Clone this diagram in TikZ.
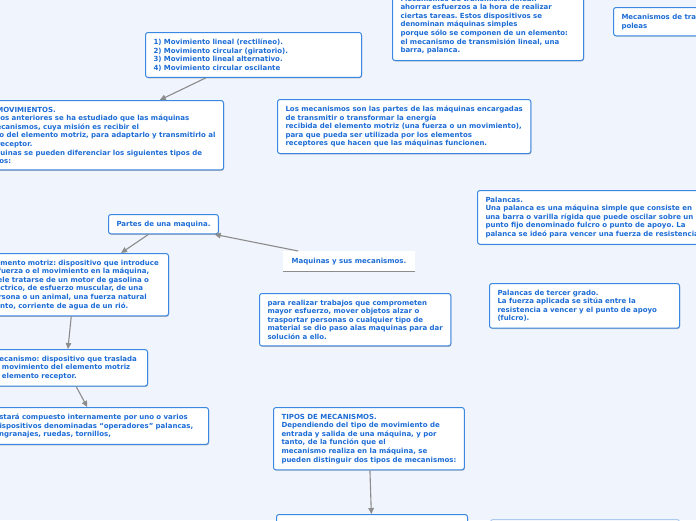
\documentclass[tikz,border=0pt]{standalone}
\usepackage{fontspec}
\setmainfont{DejaVu Sans}
\usetikzlibrary{arrows.meta,shadows}

\definecolor{mapbg}{RGB}{240,244,252}
\definecolor{maptext}{RGB}{28,108,214}
\definecolor{mapedge}{RGB}{58,136,226}
\definecolor{mapghost}{RGB}{172,202,240}
\definecolor{linkgray}{RGB}{140,140,140}

\begin{document}
\begin{tikzpicture}[x=1pt,y=-1pt,
    every node/.style={font=\fontsize{7}{8.6}\selectfont\bfseries\frenchspacing,text=maptext,align=left},
    topic/.style={draw=mapedge,line width=1pt,fill=white,rounded corners=2.5pt,
      inner xsep=8pt,inner ysep=6.3pt,
      drop shadow={shadow xshift=.6pt,shadow yshift=-.9pt,opacity=.25,fill=black}},
    ghost/.style={topic,draw=mapghost},
    central/.style={fill=white,inner xsep=8.5pt,inner ysep=6.5pt},
    link/.style={draw=linkgray,line width=1.1pt,-{Triangle[length=6pt,width=5.5pt]}}]
      \useasboundingbox (0,0) rectangle (696,520);
      \clip (0,0) rectangle (696,520);
      \fill[mapbg] (0,0) rectangle (696,520);

      \node[topic,anchor=north west,text width=200pt] (movlist) at (145,32) {1) Movimiento lineal (rectilíneo).\\2) Movimiento circular (giratorio).\\3) Movimiento lineal alternativo.\\4) Movimiento circular oscilante};
      \node[topic,anchor=south west,text width=175pt] (lineal) at (392,61) {Mecanismos de transmisión lineal.\\ahorrar esfuerzos a la hora de realizar\\ciertas tareas. Estos dispositivos se\\denominan máquinas simples\\porque sólo se componen de un elemento:\\el mecanismo de transmisión lineal, una\\barra, palanca.};
      \node[topic,anchor=north west] (circular) at (613,7) {Mecanismos de transmisión circular.\\poleas};
      \node[topic,anchor=north east] (movtypes) at (224,100) {TIPOS DE MOVIMIENTOS.\\En los cursos anteriores se ha estudiado que las máquinas\\utilizan mecanismos, cuya misión es recibir el\\movimiento del elemento motriz, para adaptarlo y transmitirlo al\\elemento receptor.\\En las máquinas se pueden diferenciar los siguientes tipos de\\movimientos:};
      \node[topic,anchor=north west] (definicion) at (277,99) {Los mecanismos son las partes de las máquinas encargadas\\de transmitir o transformar la energía\\recibida del elemento motriz (una fuerza o un movimiento),\\para que pueda ser utilizada por los elementos\\receptores que hacen que las máquinas funcionen.};
      \node[topic,anchor=north west] (palancas) at (477,190) {Palancas.\\Una palanca es una máquina simple que consiste en\\una barra o varilla rígida que puede oscilar sobre un\\punto fijo denominado fulcro o punto de apoyo. La\\palanca se ideó para vencer una fuerza de resistencia};
      \node[topic,anchor=north west] (partes) at (108,214) {Partes de una maquina.};
      \node[central,anchor=north west] (root) at (283,251) {Maquinas y sus mecanismos.};
      \draw[linkgray,line width=1pt] (root.south west) -- (root.south east);
      \node[topic,anchor=north east,text width=172pt] (motriz) at (169,253) {Elemento motriz: dispositivo que introduce\\la fuerza o el movimiento en la máquina,\\suele tratarse de un motor de gasolina o\\eléctrico, de esfuerzo muscular, de una\\persona o un animal, una fuerza natural\\viento, corriente de agua de un rió.};
      \node[topic,anchor=north west] (para) at (259,293) {para realizar trabajos que comprometen\\mayor esfuerzo, mover objetos alzar o\\trasportar personas o cualquier tipo de\\material se dio paso alas maquinas para dar\\solución a ello.};
      \node[topic,anchor=north west,text width=174pt] (tercer) at (489,283) {Palancas de tercer grado.\\La fuerza aplicada se sitúa entre la\\resistencia a vencer y el punto de apoyo\\(fulcro).};
      \node[topic,anchor=north east,text width=147pt] (mecanismo) at (148,349) {Mecanismo: dispositivo que traslada\\el movimiento del elemento motriz\\al elemento receptor.};
      \node[topic,anchor=north west] (tipos) at (273,407) {TIPOS DE MECANISMOS.\\Dependiendo del tipo de movimiento de\\entrada y salida de una máquina, y por\\tanto, de la función que el\\mecanismo realiza en la máquina, se\\pueden distinguir dos tipos de mecanismos:};
      \node[topic,anchor=north east,text width=206pt] (operadores) at (209,407) {Estará compuesto internamente por uno o varios\\dispositivos denominadas “operadores” palancas,\\engranajes, ruedas, tornillos,};
      \node[topic,anchor=north west,minimum width=191pt,minimum height=40pt] (mecbox) at (276,514) {};
      \node[ghost,anchor=north west,minimum width=189pt,minimum height=40pt] (ghostbox) at (490,519) {};

      \draw[link] (movlist) -- (movtypes);
      \draw[link] (root) -- (partes);
      \draw[link] (partes) -- (motriz);
      \draw[link] (motriz) -- (mecanismo);
      \draw[link] (mecanismo) -- (operadores);
      \draw[link] (tipos) -- (mecbox);
    \end{tikzpicture}
\end{document}
